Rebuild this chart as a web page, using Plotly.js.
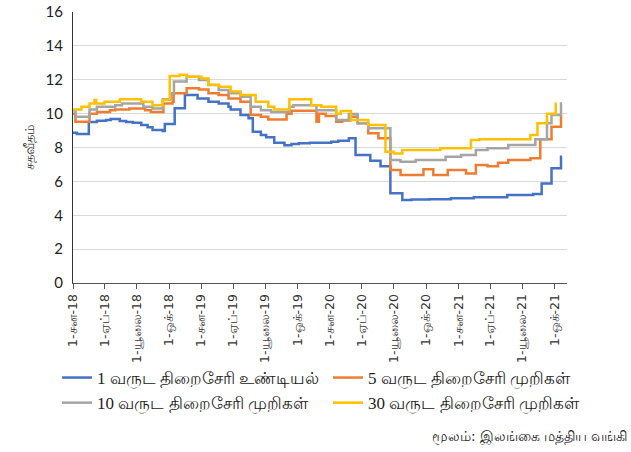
<!DOCTYPE html>
<html>
<head>
<meta charset="utf-8">
<script src="https://cdn.plot.ly/plotly-3.0.1.min.js"></script>
<style>html,body{margin:0;padding:0;background:#fff;}#chart{width:631px;height:452px;}</style>
</head>
<body>
<div id="chart"></div>
<script>
// Series names
const seriesNames = [
  "1 வருட திறைசேரி உண்டியல்",
  "5 வருட திறைசேரி முறிகள்",
  "10 வருட திறைசேரி முறிகள்",
  "30 வருட திறைசேரி முறிகள்"
];

// 1-year bill (step data: date where level starts)
const dates1 = ["2018-01-01","2018-01-12","2018-02-15","2018-03-10","2018-04-05","2018-04-18","2018-05-14","2018-06-01","2018-06-20","2018-07-14","2018-08-01","2018-08-15","2018-09-13","2018-09-19","2018-10-17","2018-11-15","2018-12-21","2019-01-21","2019-02-19","2019-03-19","2019-03-25","2019-04-22","2019-05-15","2019-05-27","2019-06-19","2019-07-04","2019-07-27","2019-08-25","2019-09-14","2019-10-05","2019-11-05","2019-12-08","2020-01-05","2020-01-25","2020-02-24","2020-03-14","2020-04-25","2020-05-24","2020-06-21","2020-07-25","2020-08-20","2020-10-10","2020-12-10","2021-02-13","2021-05-19","2021-08-01","2021-08-25","2021-09-22","2021-10-19","2021-10-22"];
const vals1  = [8.87,8.80,9.50,9.58,9.62,9.68,9.56,9.50,9.46,9.33,9.20,9.03,8.97,9.39,10.31,11.10,10.90,10.70,10.60,10.40,10.25,9.92,9.72,8.93,8.74,8.60,8.28,8.13,8.20,8.25,8.28,8.28,8.34,8.40,8.54,7.56,7.22,6.90,5.30,4.90,4.93,4.95,5.00,5.06,5.19,5.25,5.88,6.77,7.46,7.46];

// 5-year bond
const dates5 = ["2018-01-01","2018-01-08","2018-02-17","2018-03-10","2018-04-16","2018-05-01","2018-06-10","2018-07-25","2018-08-10","2018-09-15","2018-10-11","2018-10-14","2018-11-20","2018-12-25","2019-01-21","2019-02-19","2019-03-19","2019-04-22","2019-05-21","2019-06-19","2019-07-10","2019-08-31","2019-09-14","2019-11-24","2019-12-01","2019-12-20","2020-01-19","2020-02-05","2020-02-28","2020-03-20","2020-04-19","2020-05-18","2020-06-21","2020-07-20","2020-09-23","2020-10-21","2020-12-01","2021-01-22","2021-02-19","2021-03-24","2021-04-23","2021-05-22","2021-07-24","2021-08-21","2021-09-22","2021-10-19","2021-10-22"];
const vals5  = [10.00,9.52,10.00,10.10,10.20,10.25,10.30,10.20,10.10,10.60,10.70,11.20,11.50,11.43,11.20,11.10,10.90,10.70,9.92,9.82,9.66,10.00,10.17,9.52,10.00,9.86,9.52,9.60,9.82,9.43,8.84,8.54,6.67,6.38,6.71,6.38,6.67,6.47,6.97,6.90,7.10,7.26,7.36,8.48,9.23,9.86,9.86];

// 10-year bond
const dates10 = ["2018-01-01","2018-01-08","2018-02-17","2018-03-10","2018-05-01","2018-05-20","2018-07-20","2018-08-15","2018-09-13","2018-10-08","2018-10-15","2018-11-20","2018-12-25","2019-01-21","2019-02-19","2019-03-19","2019-04-22","2019-05-21","2019-06-19","2019-07-18","2019-09-08","2019-09-20","2019-11-24","2020-01-19","2020-02-24","2020-03-20","2020-04-19","2020-06-21","2020-07-20","2020-09-01","2020-11-25","2021-01-08","2021-02-19","2021-03-24","2021-05-22","2021-08-07","2021-09-09","2021-09-22","2021-10-19","2021-10-22"];
const vals10  = [10.20,9.82,10.25,10.40,10.50,10.60,10.40,10.30,10.85,11.20,11.90,12.18,11.98,11.69,11.40,11.20,11.00,10.40,10.20,10.10,10.40,10.50,10.20,9.62,9.98,9.43,9.13,7.26,7.16,7.26,7.46,7.56,7.85,7.95,8.15,8.48,9.43,9.92,10.60,10.60];

// 30-year bond
const dates30 = ["2018-01-01","2018-01-25","2018-02-17","2018-03-03","2018-03-08","2018-04-01","2018-05-14","2018-07-14","2018-08-15","2018-09-13","2018-10-03","2018-10-31","2018-11-20","2019-01-01","2019-01-21","2019-02-19","2019-03-25","2019-04-22","2019-06-04","2019-07-10","2019-07-27","2019-09-08","2019-11-09","2019-12-08","2020-01-19","2020-02-01","2020-03-01","2020-04-19","2020-06-07","2020-07-01","2020-07-25","2020-11-10","2021-02-05","2021-03-01","2021-07-24","2021-08-13","2021-09-09","2021-10-04","2021-10-06"];
const vals30  = [10.25,10.40,10.60,10.80,10.60,10.70,10.85,10.70,10.50,10.80,12.22,12.30,12.18,12.08,11.70,11.59,11.30,11.10,10.70,10.40,10.25,10.85,10.50,10.40,10.00,10.15,9.62,9.33,7.75,7.65,7.85,7.95,8.44,8.48,8.74,9.43,10.00,10.60,10.60];

// X tick labels (quarterly)
const tickDates = ["2018-01-01","2018-04-01","2018-07-01","2018-10-01","2019-01-01","2019-04-01","2019-07-01","2019-10-01","2020-01-01","2020-04-01","2020-07-01","2020-10-01","2021-01-01","2021-04-01","2021-07-01","2021-10-01"];
const tickLabels = ["1-சன-18","1-ஏப்-18","1-யூலை-18","1-ஒக்-18","1-சன-19","1-ஏப்-19","1-யூலை-19","1-ஒக்-19","1-சன-20","1-ஏப்-20","1-யூலை-20","1-ஒக்-20","1-சன-21","1-ஏப்-21","1-யூலை-21","1-ஒக்-21"];

const yTitle = "சதவீதம்";
const sourceText = "மூலம்: இலங்கை மத்திய வங்கி";

const colors = ["#4472C4","#ED7D31","#A5A5A5","#FFC000"];
const legendOf = ["legend","legend2","legend","legend2"];
const allDates = [dates1, dates5, dates10, dates30];
const allVals = [vals1, vals5, vals10, vals30];

const traces = allDates.map((d, i) => ({
  x: d, y: allVals[i], type: "scatter", mode: "lines",
  name: seriesNames[i], legend: legendOf[i],
  line: {color: colors[i], width: 2.5, shape: "hv"}
}));

const legendFont = {family: "Liberation Serif, serif", size: 17, color: "#222"};
// horizontal legends with wide entries so each entry wraps to its own row
const legendBase = {
  orientation: "h", xref: "container", yref: "container",
  xanchor: "left", yanchor: "top", font: legendFont,
  entrywidth: 420, entrywidthmode: "pixels",
  bgcolor: "rgba(0,0,0,0)"
};

const layout = {
  width: 631, height: 452,
  margin: {l: 73, r: 64, t: 12, b: 169},
  paper_bgcolor: "#fff", plot_bgcolor: "#fff",
  showlegend: true,
  font: {family: "Liberation Serif, serif", color: "#222"},
  xaxis: {
    type: "date",
    range: ["2018-01-01", "2021-11-05"],
    tickmode: "array", tickvals: tickDates, ticktext: tickLabels,
    tickangle: -90, ticks: "outside", ticklen: 5, tickcolor: "#555",
    showgrid: false, showline: true, linecolor: "#555", linewidth: 1,
    tickfont: {family: "DejaVu Sans, sans-serif", size: 12.5, color: "#333"},
    zeroline: false
  },
  yaxis: {
    range: [0, 16], dtick: 2, showgrid: true, gridcolor: "#d9d9d9", gridwidth: 1,
    showline: true, linecolor: "#333", linewidth: 1, zeroline: false,
    ticks: "", ticklabelstandoff: 6,
    tickfont: {family: "Lato, Open Sans, sans-serif", size: 15, color: "#222"},
    title: {text: yTitle, font: {family: "DejaVu Sans, sans-serif", size: 12.5, color: "#333"}, standoff: 8}
  },
  legend: Object.assign({}, legendBase, {x: 57/631, y: 1 - 360/452}),
  legend2: Object.assign({}, legendBase, {x: 328/631, y: 1 - 360/452}),
  annotations: [{
    text: sourceText, xref: "paper", yref: "paper",
    x: 1 + 62/494, y: -(436-283)/271, xanchor: "right", yanchor: "middle",
    showarrow: false, font: {family: "DejaVu Sans, sans-serif", size: 13.5, color: "#222"}
  }]
};

Plotly.newPlot("chart", traces, layout, {displayModeBar: false, staticPlot: true});
</script>
</body>
</html>
